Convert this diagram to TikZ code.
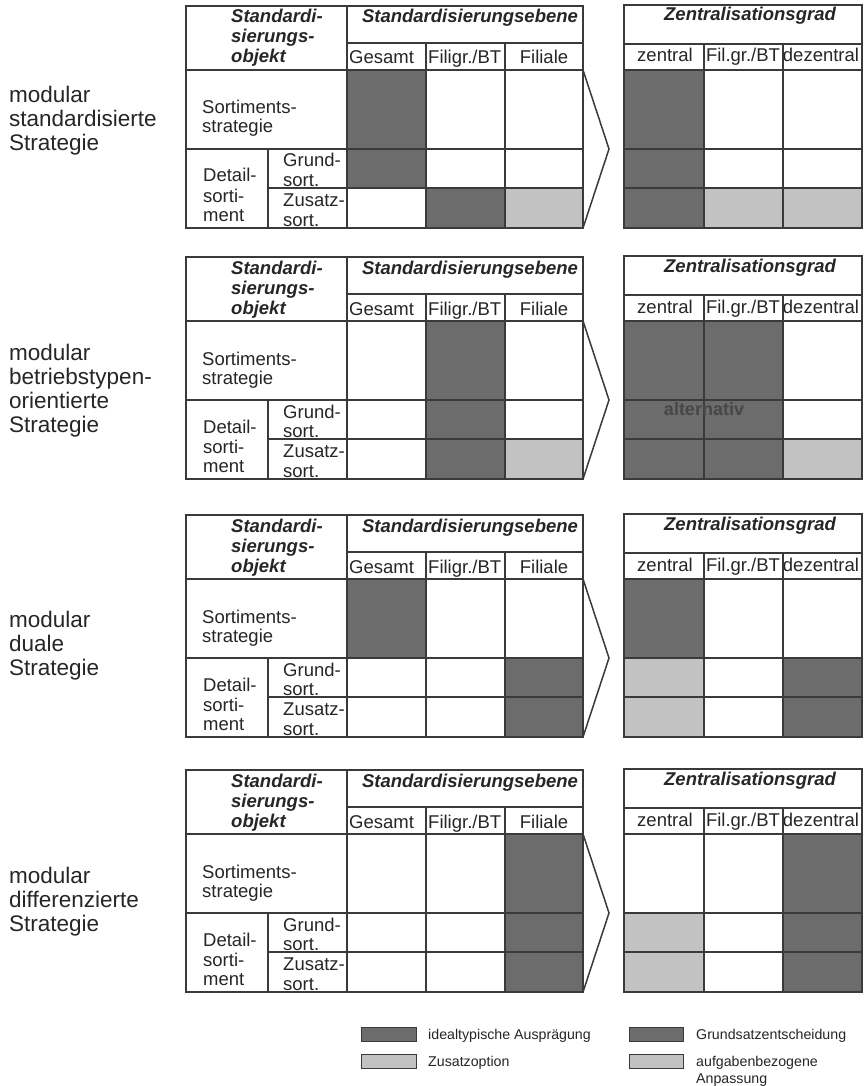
\documentclass[tikz,border=0pt]{standalone}
\usepackage{fontspec}
\setmainfont{Liberation Sans}
\definecolor{darkc}{HTML}{6C6C6C}
\definecolor{lightc}{HTML}{C2C2C2}
\definecolor{linec}{HTML}{3A3A3A}
\definecolor{textc}{HTML}{262626}
\tikzset{
  grid/.style={draw=linec, line width=1.5pt},
  dk/.style={fill=darkc},
  lt/.style={fill=lightc},
  tx/.style={font=\fontsize{18.5}{20}\selectfont, text=textc, inner sep=0pt},
  hd/.style={font=\fontsize{18.5}{20}\selectfont\bfseries\itshape, text=textc, inner sep=0pt},
  lbl/.style={font=\fontsize{22.5}{24}\selectfont, text=textc, inner sep=0pt, anchor=base west},
  lg/.style={font=\fontsize{14.2}{18}\selectfont, text=textc, inner sep=0pt, anchor=base west},
  lgbox/.style={draw=linec, line width=1pt},
}
\newcommand\drawtbl[2]{%
  % left table grid
  \draw[grid] (186,#1) rectangle (583,#1+222);
  \draw[grid] (347,#1) -- (347,#1+222);
  \draw[grid] (347,#1+37) -- (583,#1+37);
  \draw[grid] (186,#1+64) -- (583,#1+64);
  \draw[grid] (426,#1+37) -- (426,#1+222);
  \draw[grid] (505,#1+37) -- (505,#1+222);
  \draw[grid] (186,#1+143) -- (583,#1+143);
  \draw[grid] (268,#1+143) -- (268,#1+222);
  \draw[grid] (268,#1+182) -- (583,#1+182);
  % chevron
  \draw[grid] (583,#1+64) -- (609,#1+143) -- (583,#1+222);
  % right table grid
  \draw[grid] (624,#1-1) rectangle (862,#1+222);
  \draw[grid] (624,#1+38) -- (862,#1+38);
  \draw[grid] (624,#1+64) -- (862,#1+64);
  \draw[grid] (704,#1+38) -- (704,#1+222);
  \draw[grid] (783,#1+38) -- (783,#1+222);
  \draw[grid] (624,#1+143) -- (862,#1+143);
  \draw[grid] (624,#1+182) -- (862,#1+182);
  % left texts
  \node[hd,anchor=base west] (#2o1) at (231,#1+17) {Standardi-};
  \node[hd,anchor=base west] (#2o2) at (231,#1+37) {sierungs-};
  \node[hd,anchor=base west] (#2o3) at (231,#1+57) {objekt};
  \node[hd,anchor=base] (#2se) at (470,#1+17) {Standardisierungsebene};
  \node[tx,anchor=base west] (#2ge) at (349,#1+58) {Gesamt};
  \node[tx,anchor=base west] (#2fb) at (428,#1+58) {Filigr./BT};
  \node[tx,anchor=base] (#2fi) at (544,#1+58) {Filiale};
  \node[tx,anchor=base west] (#2s1) at (202,#1+108) {Sortiments-};
  \node[tx,anchor=base west] (#2s2) at (202,#1+127) {strategie};
  \node[tx,anchor=base west] (#2d1) at (203,#1+176) {Detail-};
  \node[tx,anchor=base west] (#2d2) at (203,#1+196) {sorti-};
  \node[tx,anchor=base west] (#2d3) at (203,#1+215) {ment};
  \node[tx,anchor=base west] (#2g1) at (283,#1+161) {Grund-};
  \node[tx,anchor=base west] (#2g2) at (283,#1+180) {sort.};
  \node[tx,anchor=base west] (#2z1) at (283,#1+200) {Zusatz-};
  \node[tx,anchor=base west] (#2z2) at (283,#1+220) {sort.};
  % right texts
  \node[hd,anchor=base] (#2zg) at (750,#1+15) {Zentralisationsgrad};
  \node[tx,anchor=base] (#2ze) at (665,#1+56) {zentral};
  \node[tx,anchor=base] (#2fg) at (743,#1+56) {Fil.gr./BT};
  \node[tx,anchor=base] (#2dz) at (821,#1+56) {dezentral};
}
\begin{document}
\begin{tikzpicture}[x=1pt,y=-1pt]
\useasboundingbox[fill=white] (0,0) rectangle (865,1086);

% ---------- table 1 : modular standardisierte Strategie ----------
\def\T{6}
\fill[dk] (347,\T+64) rectangle (426,\T+143);
\fill[dk] (347,\T+143) rectangle (426,\T+182);
\fill[dk] (426,\T+182) rectangle (505,\T+222);
\fill[lt] (505,\T+182) rectangle (583,\T+222);
\fill[dk] (624,\T+64) rectangle (704,\T+143);
\fill[dk] (624,\T+143) rectangle (704,\T+182);
\fill[dk] (624,\T+182) rectangle (704,\T+222);
\fill[lt] (704,\T+182) rectangle (783,\T+222);
\fill[lt] (783,\T+182) rectangle (862,\T+222);
\drawtbl{6}{a}
\node[lbl] (la1) at (9,103) {modular};
\node[lbl] (la2) at (9,127) {standardisierte};
\node[lbl] (la3) at (9,151) {Strategie};

% ---------- table 2 : modular betriebstypenorientierte Strategie ----------
\def\T{257}
\fill[dk] (426,\T+64) rectangle (505,\T+143);
\fill[dk] (426,\T+143) rectangle (505,\T+182);
\fill[dk] (426,\T+182) rectangle (505,\T+222);
\fill[lt] (505,\T+182) rectangle (583,\T+222);
\fill[dk] (624,\T+64) rectangle (783,\T+143);
\fill[dk] (624,\T+143) rectangle (783,\T+182);
\fill[dk] (624,\T+182) rectangle (783,\T+222);
\fill[lt] (783,\T+182) rectangle (862,\T+222);
\drawtbl{257}{b}
\node[font=\fontsize{18}{18}\selectfont\bfseries, text=black!72, inner sep=0pt, anchor=base] (alt) at (704,\T+158) {alternativ};
\node[lbl] (lb1) at (9,360) {modular};
\node[lbl] (lb2) at (9,384) {betriebstypen-};
\node[lbl] (lb3) at (9,408) {orientierte};
\node[lbl] (lb4) at (9,432) {Strategie};

% ---------- table 3 : modular duale Strategie ----------
\def\T{515}
\fill[dk] (347,\T+64) rectangle (426,\T+143);
\fill[dk] (505,\T+143) rectangle (583,\T+182);
\fill[dk] (505,\T+182) rectangle (583,\T+222);
\fill[dk] (624,\T+64) rectangle (704,\T+143);
\fill[lt] (624,\T+143) rectangle (704,\T+182);
\fill[lt] (624,\T+182) rectangle (704,\T+222);
\fill[dk] (783,\T+143) rectangle (862,\T+182);
\fill[dk] (783,\T+182) rectangle (862,\T+222);
\drawtbl{515}{c}
\node[lbl] (lc1) at (9,627) {modular};
\node[lbl] (lc2) at (9,651) {duale};
\node[lbl] (lc3) at (9,675) {Strategie};

% ---------- table 4 : modular differenzierte Strategie ----------
\def\T{770}
\fill[dk] (505,\T+64) rectangle (583,\T+143);
\fill[dk] (505,\T+143) rectangle (583,\T+182);
\fill[dk] (505,\T+182) rectangle (583,\T+222);
\fill[dk] (783,\T+64) rectangle (862,\T+143);
\fill[lt] (624,\T+143) rectangle (704,\T+182);
\fill[lt] (624,\T+182) rectangle (704,\T+222);
\fill[dk] (783,\T+143) rectangle (862,\T+182);
\fill[dk] (783,\T+182) rectangle (862,\T+222);
\drawtbl{770}{d}
\node[lbl] (ld1) at (9,883) {modular};
\node[lbl] (ld2) at (9,907) {differenzierte};
\node[lbl] (ld3) at (9,931) {Strategie};

% ---------- legend ----------
\draw[lgbox,dk] (361,1027) rectangle (416,1041);
\draw[lgbox,lt] (361,1054) rectangle (416,1068);
\draw[lgbox,dk] (629,1027) rectangle (683,1041);
\draw[lgbox,lt] (629,1054) rectangle (683,1068);
\node[lg] (lg1) at (428,1039) {idealtypische Ausprägung};
\node[lg] (lg2) at (428,1066) {Zusatzoption};
\node[lg] (lg3) at (696,1039) {Grundsatzentscheidung};
\node[lg] (lg4) at (696,1066) {aufgabenbezogene};
\node[lg] (lg5) at (696,1083) {Anpassung};
\end{tikzpicture}
\end{document}
